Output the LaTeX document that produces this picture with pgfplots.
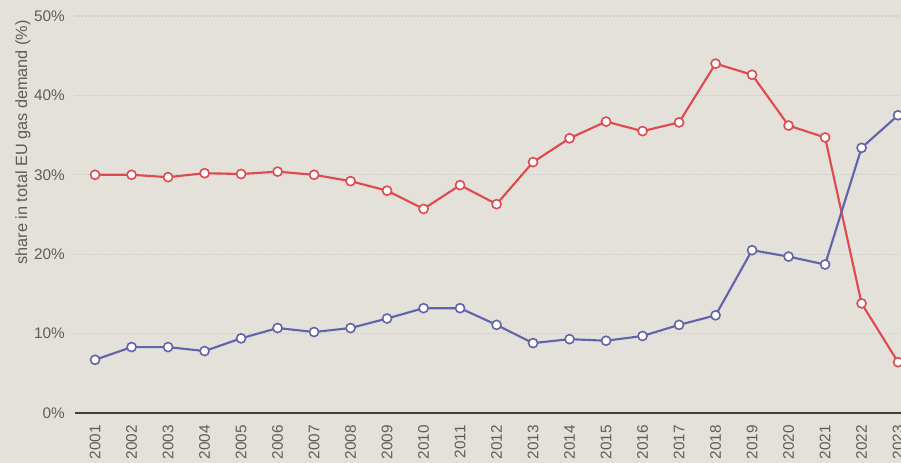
\documentclass[border=0pt]{standalone}
\usepackage{pgfplots}
\pgfplotsset{compat=1.18}
\usepackage{fontspec}
\setmainfont{Liberation Sans}
\usetikzlibrary{calc,backgrounds}
\definecolor{bgcol}{RGB}{228,225,218}
\definecolor{redl}{RGB}{222,74,80}
\definecolor{bluel}{RGB}{98,100,170}
\definecolor{txt}{RGB}{95,92,92}
\definecolor{gridc}{RGB}{200,190,185}
\begin{document}
\begin{tikzpicture}
\begin{axis}[
  scale only axis, width=619.5pt, height=297.75pt,
  xmin=2000.45, xmax=2023.08, ymin=0, ymax=50,
  axis x line*=bottom, axis y line*=left,
  y axis line style={draw=none},
  x axis line style={draw=black!75, line width=0.9pt},
  major tick length=0pt,
  ytick={0,10,20,30,40,50},
  yticklabels={0\%,10\%,20\%,30\%,40\%,50\%},
  xtick={2001,...,2023},
  xticklabels={2001,2002,2003,2004,2005,2006,2007,2008,2009,2010,2011,2012,2013,2014,2015,2016,2017,2018,2019,2020,2021,2022,2023},
  ticklabel style={font=\fontsize{11.5}{13}\selectfont, text=txt, inner sep=0pt},
  xticklabel style={rotate=90, anchor=east},
  yticklabel style={anchor=east},
  xticklabel shift=9pt, yticklabel shift=7.5pt,
  ymajorgrids, grid style={gridc, dotted, line width=0.8pt},
  every axis plot/.append style={line width=1.6pt, mark=*, mark size=3.4pt, mark options={fill=white, line width=1.2pt}},
]
\addplot[redl] coordinates {
(2001,30.0) (2002,30.0) (2003,29.7) (2004,30.2) (2005,30.1) (2006,30.4)
(2007,30.0) (2008,29.2) (2009,28.0) (2010,25.7) (2011,28.7) (2012,26.3)
(2013,31.6) (2014,34.6) (2015,36.7) (2016,35.5) (2017,36.6) (2018,44.0)
(2019,42.6) (2020,36.2) (2021,34.7) (2022,13.8) (2023,6.4)};
\addplot[bluel] coordinates {
(2001,6.7) (2002,8.3) (2003,8.3) (2004,7.8) (2005,9.4) (2006,10.7)
(2007,10.2) (2008,10.7) (2009,11.9) (2010,13.2) (2011,13.2) (2012,11.1)
(2013,8.8) (2014,9.3) (2015,9.1) (2016,9.7) (2017,11.1) (2018,12.3)
(2019,20.5) (2020,19.7) (2021,18.7) (2022,33.4) (2023,37.5)};
\coordinate (bl) at (rel axis cs:0,0);
\coordinate (tr) at (rel axis cs:1,1);
\coordinate (tl) at (rel axis cs:0,1);
\end{axis}
\node[rotate=90, anchor=north east, inner sep=0pt, text=txt, font=\fontsize{12.2}{14}\selectfont] at ($(tl)+(-45pt,-3pt)$) {share in total EU gas demand (\%)};
\begin{scope}[on background layer]
\fill[bgcol] ($(bl)+(-56.25pt,-37.5pt)$) rectangle ($(tr)+(0pt,12pt)$);
\end{scope}
\pgfresetboundingbox
\path[use as bounding box] ($(bl)+(-56.25pt,-37.5pt)$) rectangle ($(tr)+(0pt,12pt)$);
\end{tikzpicture}
\end{document}
